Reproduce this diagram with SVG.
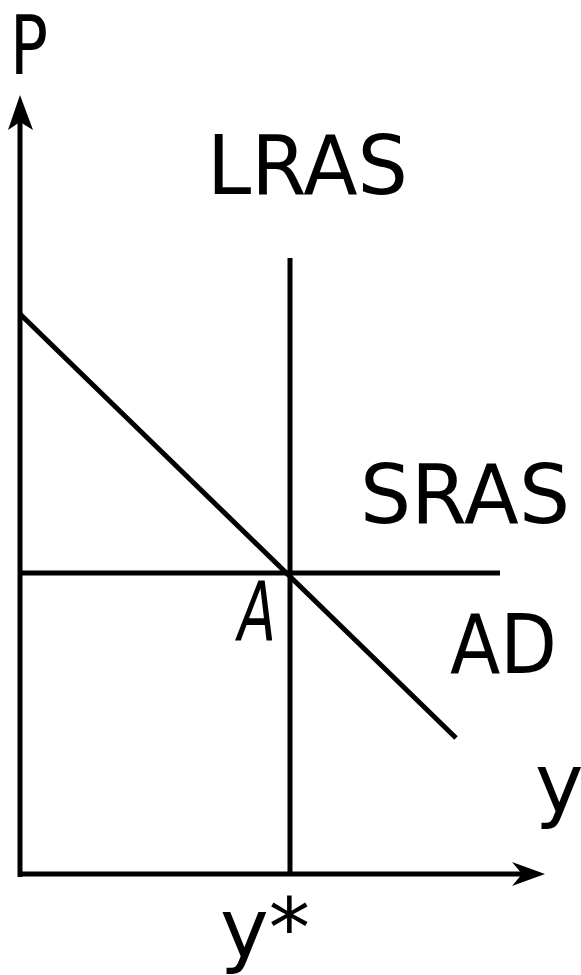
<svg xmlns="http://www.w3.org/2000/svg" width="581" height="975" viewBox="0 0 581 975">
<style>
.ln{stroke:#000;stroke-width:5;fill:none}
.t{font-family:"DejaVu Sans",sans-serif;font-size:82px;fill:#000}
</style>
<rect width="581" height="975" fill="#fff"/>
<g id="connectors">
<line class="ln" x1="20" y1="877" x2="20" y2="118"/>
<line class="ln" x1="18" y1="874" x2="530" y2="874"/>
<path d="M20,95 L33,130 L20,122 L8,130 Z" fill="#000"/>
<path d="M545,874 L512,862 L522,874 L512,886 Z" fill="#000"/>
</g>
<g id="LRAS"><line class="ln" x1="290" y1="258" x2="290" y2="876"/><text class="t" x="207" y="194" textLength="201" lengthAdjust="spacingAndGlyphs">LRAS</text></g>
<g id="SRAS"><line class="ln" x1="20" y1="573" x2="500" y2="573"/><text class="t" x="360" y="523" textLength="210" lengthAdjust="spacingAndGlyphs">SRAS</text></g>
<g id="AD"><line class="ln" x1="20" y1="314" x2="456" y2="738"/><text class="t" x="450" y="673" textLength="107" lengthAdjust="spacingAndGlyphs">AD</text></g>
<g id="P"><text class="t" x="10" y="74" textLength="38" lengthAdjust="spacingAndGlyphs">P</text></g>
<g id="A"><text class="t" x="238" y="640" font-size="60" font-style="italic" textLength="38" lengthAdjust="spacingAndGlyphs">A</text></g>
<g id="yaxis"><text class="t" x="535" y="812">y</text></g>
<g id="ystar"><text class="t" x="220" y="957" textLength="90" lengthAdjust="spacingAndGlyphs">y*</text></g>
</svg>
